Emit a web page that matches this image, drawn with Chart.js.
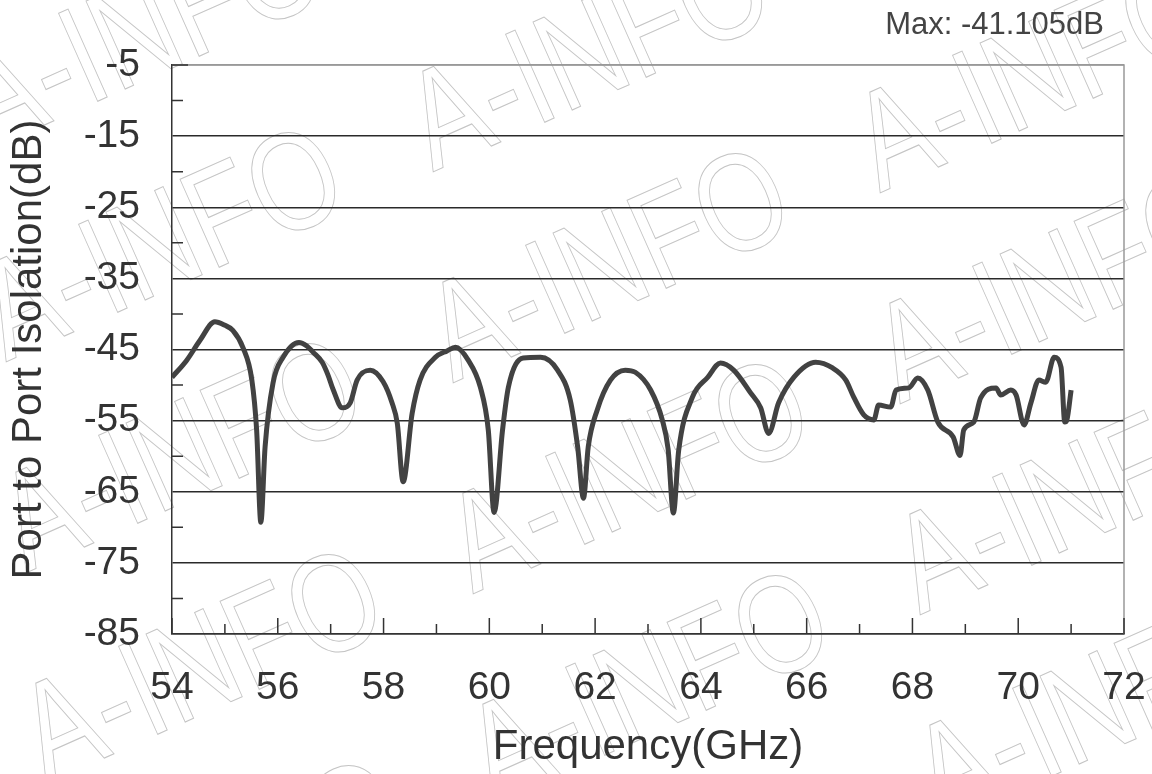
<!DOCTYPE html>
<html>
<head>
<meta charset="utf-8">
<script src="https://cdn.jsdelivr.net/npm/chart.js@4.4.0/dist/chart.umd.min.js"></script>
<style>
  html, body { margin: 0; padding: 0; background: #fff; }
  #wrap { width: 1152px; height: 774px; position: relative; }
</style>
</head>
<body>
<div id="wrap"><canvas id="isoChart"></canvas></div>
<script>
// values
const freqGHz = [
  54.00, 54.28, 54.53, 54.81, 55.00, 55.15, 55.34, 55.51, 55.60, 55.68,
  55.76, 55.91, 56.10, 56.40, 56.55, 56.67, 56.84, 56.95, 57.05, 57.22,
  57.37, 57.50, 57.75, 57.99, 58.16, 58.26, 58.37, 58.54, 58.69, 58.98,
  59.20, 59.36, 59.60, 59.83, 59.98, 60.09, 60.25, 60.36, 60.64, 60.97,
  61.29, 61.53, 61.67, 61.78, 61.87, 62.04, 62.29, 62.57, 62.76, 63.05,
  63.27, 63.38, 63.48, 63.58, 63.84, 64.13, 64.37, 64.62, 64.94, 65.13,
  65.28, 65.47, 65.76, 66.17, 66.49, 66.74, 66.89, 67.08, 67.27, 67.36,
  67.59, 67.69, 67.93, 68.10, 68.29, 68.48, 68.77, 68.90, 68.97, 69.16,
  69.29, 69.58, 69.67, 69.86, 69.96, 70.11, 70.24, 70.39, 70.52, 70.68,
  70.81, 70.88, 70.92, 71.00
];
const isolationDb = [
  -48.9, -46.5, -43.7, -41.1, -41.6, -42.3, -44.7, -49.3, -56.3, -69.3,
  -58.7, -49.7, -46.1, -44.0, -44.5, -45.4, -46.8, -48.6, -50.7, -53.2,
  -52.5, -49.3, -47.9, -49.5, -52.5, -55.4, -63.6, -54.0, -49.3, -46.1,
  -45.2, -44.7, -46.5, -50.3, -56.3, -67.9, -56.3, -50.3, -46.2, -46.1,
  -47.9, -52.1, -58.7, -65.9, -58.7, -53.5, -49.3, -47.9, -48.2, -50.7,
  -54.9, -59.0, -68.0, -59.2, -51.7, -48.9, -46.9, -47.9, -51.1, -53.2,
  -56.8, -52.5, -48.9, -46.8, -47.6, -49.3, -51.7, -54.2, -54.9, -52.8,
  -53.1, -50.7, -50.4, -49.0, -50.7, -55.2, -57.3, -59.9, -56.3, -55.2,
  -51.8, -50.4, -51.4, -50.7, -51.4, -55.6, -52.5, -49.3, -49.6, -46.1,
  -47.5, -55.2, -54.9, -50.7
];

const xTickValues = [54, 56, 58, 60, 62, 64, 66, 68, 70, 72];
const xMinorTicks = [55, 57, 59, 61, 63, 65, 67, 69, 71];
const yTickValues = [-85, -75, -65, -55, -45, -35, -25, -15, -5];
const yMinorTicks = [-80, -70, -60, -50, -40, -30, -20, -10];
const maxLabel = 'Max: -41.105dB';
const watermarkText = 'A-INFO';

const FONT = '"Liberation Sans", Arial, sans-serif';

// faint outlined watermark tiled across the picture
const watermark = {
  id: 'watermark',
  beforeDraw(chart) {
    const ctx = chart.ctx;
    ctx.save();
    ctx.strokeStyle = '#c4c4c4';
    ctx.lineWidth = 1;
    ctx.font = '140px ' + FONT;
    for (let i = -3; i <= 3; i++) {
      for (let j = -5; j <= 3; j++) {
        const ox = 780 + i * 427 + j * 20;
        const oy = 622 - i * 190 + j * 211;
        ctx.save();
        ctx.translate(ox - 287, oy + 183);
        ctx.rotate(-24 * Math.PI / 180);
        ctx.scale(0.8, 1);
        ctx.strokeText(watermarkText, 0, 0);
        ctx.restore();
      }
    }
    ctx.restore();
  }
};

// inward tick marks + the grey top/right frame
const frameTicks = {
  id: 'frameTicks',
  beforeDatasetsDraw(chart) {
    const { ctx, chartArea: a, scales: { x, y } } = chart;
    ctx.save();
    ctx.strokeStyle = '#999';
    ctx.lineWidth = 1.5;
    ctx.beginPath();
    ctx.moveTo(a.left, a.top);
    ctx.lineTo(a.right, a.top);
    ctx.lineTo(a.right, a.bottom);
    ctx.stroke();

    ctx.strokeStyle = '#333';
    ctx.beginPath();
    xTickValues.forEach(v => {
      const px = x.getPixelForValue(v);
      ctx.moveTo(px, a.bottom);
      ctx.lineTo(px, a.bottom - 16);
    });
    xMinorTicks.forEach(v => {
      const px = x.getPixelForValue(v);
      ctx.moveTo(px, a.bottom);
      ctx.lineTo(px, a.bottom - 10);
    });
    yMinorTicks.forEach(v => {
      const py = y.getPixelForValue(v);
      ctx.moveTo(a.left, py);
      ctx.lineTo(a.left + 11, py);
    });
    ctx.moveTo(a.left, a.top);
    ctx.lineTo(a.left + 16, a.top);
    ctx.stroke();
    ctx.restore();
  },
  afterDraw(chart) {
    const { ctx, chartArea: a } = chart;
    ctx.save();
    ctx.fillStyle = '#444';
    ctx.font = '31px ' + FONT;
    ctx.textAlign = 'right';
    ctx.textBaseline = 'middle';
    ctx.fillText(maxLabel, a.right - 20, 25);
    ctx.restore();
  }
};

const points = freqGHz.map((f, i) => ({ x: f, y: isolationDb[i] }));

new Chart(document.getElementById('isoChart'), {
  type: 'line',
  data: {
    datasets: [{
      label: 'Port to Port Isolation',
      data: points,
      borderColor: '#424242',
      borderWidth: 5,
      pointRadius: 0,
      fill: false,
      cubicInterpolationMode: 'monotone'
    }]
  },
  options: {
    responsive: true,
    maintainAspectRatio: false,
    animation: false,
    layout: { padding: { top: 65, right: 28, left: 0, bottom: 0 } },
    plugins: {
      legend: { display: false },
      tooltip: { enabled: false }
    },
    scales: {
      x: {
        type: 'linear',
        min: 54,
        max: 72,
        afterBuildTicks: s => { s.ticks = xTickValues.map(v => ({ value: v })); },
        afterFit: s => {
          s.height = 140;
          s.paddingLeft = 0;
          s.paddingRight = 0;
        },
        grid: { display: false, drawTicks: false },
        border: { display: true, color: '#333', width: 1.5 },
        ticks: {
          color: '#333',
          padding: 31,
          maxRotation: 0,
          autoSkip: false,
          font: { family: FONT, size: 39 }
        },
        title: {
          display: true,
          text: 'Frequency(GHz)',
          color: '#333',
          padding: { top: 0, bottom: 1 },
          font: { family: FONT, size: 42 }
        }
      },
      y: {
        min: -85,
        max: -5,
        afterBuildTicks: s => { s.ticks = yTickValues.map(v => ({ value: v })); },
        afterFit: s => { s.width = 172; },
        grid: {
          drawTicks: false,
          lineWidth: 1.5,
          color: c => (c.tick && c.tick.value === -5) ? '#999' : '#2a2a2a'
        },
        border: { display: true, color: '#333', width: 1.5 },
        ticks: {
          color: '#333',
          padding: 32,
          autoSkip: false,
          font: { family: FONT, size: 39 }
        },
        title: {
          display: true,
          text: 'Port to Port Isolation(dB)',
          color: '#333',
          padding: { top: 4, bottom: 0 },
          font: { family: FONT, size: 42 }
        }
      }
    }
  },
  plugins: [watermark, frameTicks]
});
</script>
</body>
</html>
